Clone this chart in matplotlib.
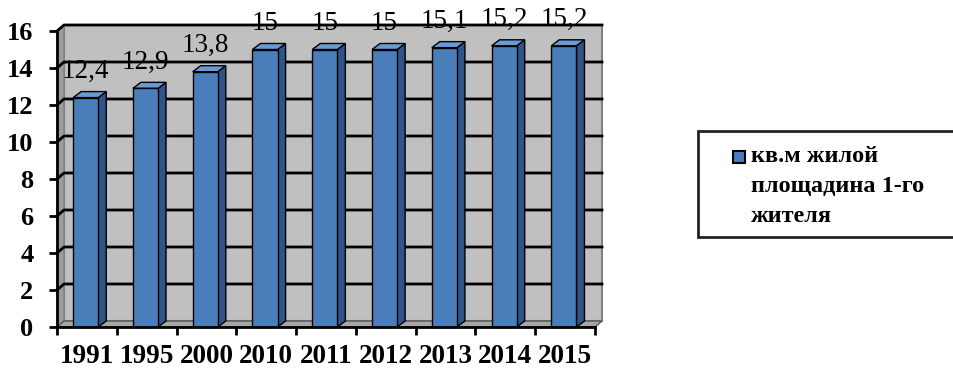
import matplotlib
matplotlib.use("Agg")
import matplotlib.pyplot as plt
from matplotlib.patches import Polygon, Rectangle

# données
years = ["1991", "1995", "2000", "2010", "2011", "2012", "2013", "2014", "2015"]
values = [12.4, 12.9, 13.8, 15, 15, 15, 15.1, 15.2, 15.2]
value_labels = ["12,4", "12,9", "13,8", "15", "15", "15", "15,1", "15,2", "15,2"]
series_name = "кв.м жилой\nплощадина 1-го\nжителя"
y_ticks = [0, 2, 4, 6, 8, 10, 12, 14, 16]

plt.rcParams["font.family"] = ["Liberation Serif", "DejaVu Serif"]

W, H = 954, 369
fig = plt.figure(figsize=(W / 100, H / 100), dpi=100)

# pixel mapping : x=0 -> 57px, x=9 -> 595px ; y=0 -> 327px, y=16 -> 31px
px_x = (595 - 57) / 9
px_y = (327 - 31) / 16
left_px, right_px, bot_px, top_px = 40, 620, 345, 5
ax = fig.add_axes([left_px / W, 1 - bot_px / H, (right_px - left_px) / W, (bot_px - top_px) / H])
ax.set_xlim((left_px - 57) / px_x, (right_px - 57) / px_x)
ax.set_ylim((327 - bot_px) / px_y, (327 - top_px) / px_y)
ax.patch.set_visible(False)

n = len(years)
ymax = 16
dx, dy = 7 / px_x, 6 / px_y          # profondeur des murs
bdx, bdy = 8 / px_x, 6 / px_y        # profondeur des barres

# murs
ax.add_patch(Rectangle((dx, dy), n, ymax, facecolor="#c0c0c0", edgecolor="#808080", lw=1.5, zorder=1))
ax.add_patch(Polygon([(0, 0), (dx, dy), (dx, ymax + dy), (0, ymax)], closed=True,
                     facecolor="#9c9c9c", edgecolor="#808080", lw=1, zorder=1))
ax.add_patch(Polygon([(0, 0), (n, 0), (n + dx, dy), (dx, dy)], closed=True,
                     facecolor="#a6a6a6", edgecolor="#555555", lw=1, zorder=1))

# grille
for t in y_ticks[1:]:
    ax.plot([0, dx, n + dx], [t, t + dy, t + dy], color="black", lw=2, zorder=2)

# barres 3D
front = "#4a7ebb"
side = "#2f5487"
top = "#6a9ad6"
for i, v in enumerate(values):
    x0 = i + 0.27
    x1 = i + 0.69
    ax.add_patch(Polygon([(x1, 0), (x1 + bdx, bdy), (x1 + bdx, v + bdy), (x1, v)], closed=True,
                         facecolor=side, edgecolor="black", lw=1, zorder=3))
    ax.add_patch(Polygon([(x0, v), (x1, v), (x1 + bdx, v + bdy), (x0 + bdx, v + bdy)], closed=True,
                         facecolor=top, edgecolor="black", lw=1, zorder=3))
    ax.add_patch(Rectangle((x0, 0), x1 - x0, v, facecolor=front, edgecolor="black", lw=1, zorder=4))
    ax.annotate(value_labels[i], ((x0 + x1) / 2, v + bdy), xytext=(0, 10), textcoords="offset points",
                ha="center", va="baseline", fontsize=19.5, zorder=5)

# axes
for s in ["top", "right"]:
    ax.spines[s].set_visible(False)
ax.spines["left"].set_position(("data", 0))
ax.spines["bottom"].set_position(("data", 0))
ax.spines["left"].set_bounds(0, ymax)
ax.spines["bottom"].set_bounds(0, n)
ax.spines["left"].set_linewidth(2)
ax.spines["bottom"].set_linewidth(2)
ax.spines["left"].set_zorder(6)
ax.spines["bottom"].set_zorder(6)

ax.set_yticks(y_ticks)
ax.set_yticklabels([str(t) for t in y_ticks], fontsize=19, fontweight="bold")
ax.tick_params(axis="y", direction="out", length=6, width=2, pad=11)

ax.set_xticks(range(n + 1))
ax.set_xticklabels([])
ax.set_xticks([i + 0.5 for i in range(n)], minor=True)
ax.set_xticklabels(years, minor=True, fontsize=19.5, fontweight="bold")
ax.tick_params(axis="x", which="major", direction="out", length=6, width=2)
ax.tick_params(axis="x", which="minor", length=0, pad=12)

# légende
fig.patches.append(Rectangle((698 / W, 1 - 237 / H), 270 / W, 106 / H, transform=fig.transFigure,
                             facecolor="white", edgecolor="#222222", lw=2, figure=fig))
fig.patches.append(Rectangle((733 / W, 1 - 163 / H), 12 / W, 12 / H, transform=fig.transFigure,
                             facecolor=front, edgecolor="black", lw=1.5, figure=fig))
fig.text(751 / W, 1 - 146 / H, series_name, ha="left", va="top", fontsize=17.5,
         fontweight="bold", linespacing=1.55, family="Liberation Serif")

fig.savefig("out.png", dpi=100)
